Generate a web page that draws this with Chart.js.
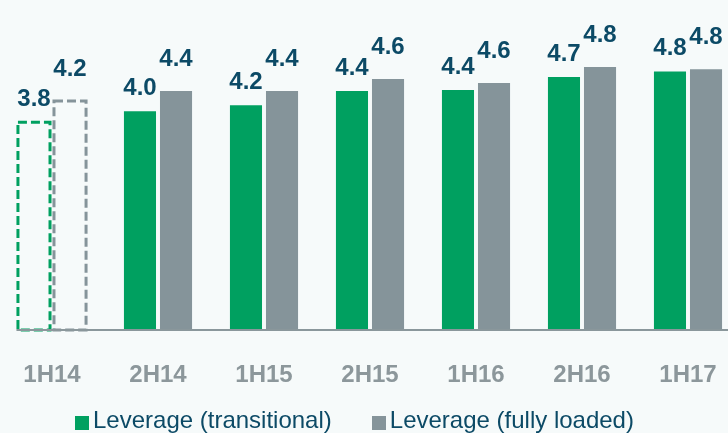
<!DOCTYPE html>
<html><head><meta charset="utf-8">
<script src="https://cdn.jsdelivr.net/npm/chart.js@4"></script>
<style>
html,body{margin:0;padding:0;background:#f6fafa;width:728px;height:433px;overflow:hidden;position:relative;font-family:"Liberation Sans",Arial,sans-serif;}
#wrap{position:absolute;left:-1px;top:0;width:742px;height:433px;}
#legend{position:absolute;left:75px;top:408px;font-size:24px;line-height:24px;color:#0c4a66;white-space:nowrap;}
.item{display:inline-block;margin-right:40px}
.box{display:inline-block;width:14px;height:14px;margin-right:4px;vertical-align:-2px}
</style></head>
<body>
<div id="wrap"><canvas id="c" width="742" height="433"></canvas></div>
<div id="legend"></div>
<script>
const categories = ['1H14','2H14','1H15','2H15','1H16','2H16','1H17'];
const transitional = [3.80, 4.00, 4.11, 4.37, 4.39, 4.63, 4.73];
const fullyLoaded = [4.19, 4.37, 4.37, 4.59, 4.52, 4.81, 4.77];
const transitionalLabels = ['3.8','4.0','4.2','4.4','4.4','4.7','4.8'];
const fullyLoadedLabels = ['4.2','4.4','4.4','4.6','4.6','4.8','4.8'];
const seriesNames = ['Leverage (transitional)','Leverage (fully loaded)'];
const outlinedCategories = ['1H14'];

const GREEN = '#00a060';
const GRAY = '#85949a';
const LABEL = '#0c4a66';
const FONT = '"Liberation Sans", Arial, sans-serif';
const labelSets = [transitionalLabels, fullyLoadedLabels];
const labelGaps = [16, 25];

const fillFor = (color) => categories.map(c => outlinedCategories.includes(c) ? 'rgba(0,0,0,0)' : color);

const overlay = {
  id: 'overlay',
  afterDatasetsDraw(chart) {
    const ctx = chart.ctx;
    const yScale = chart.scales.y;
    const base = yScale.getPixelForValue(0);
    chart.data.datasets.forEach((ds, di) => {
      const meta = chart.getDatasetMeta(di);
      meta.data.forEach((el, i) => {
        if (!outlinedCategories.includes(categories[i])) return;
        const w = el.width;
        ctx.save();
        ctx.setLineDash([9, 4]);
        ctx.lineWidth = 3;
        ctx.strokeStyle = ds.outlineColor;
        ctx.strokeRect(el.x - w / 2, el.y, w, base - el.y);
        ctx.restore();
      });
    });
    const first = chart.getDatasetMeta(0).data[0];
    ctx.save();
    ctx.strokeStyle = '#8a979b';
    ctx.lineWidth = 2;
    ctx.beginPath();
    ctx.moveTo(first.x - first.width / 2 - 1.5, base);
    ctx.lineTo(chart.chartArea.right, base);
    ctx.stroke();
    ctx.restore();
    ctx.save();
    ctx.font = 'bold 24px ' + FONT;
    ctx.fillStyle = LABEL;
    ctx.textAlign = 'center';
    ctx.textBaseline = 'alphabetic';
    chart.data.datasets.forEach((ds, di) => {
      const meta = chart.getDatasetMeta(di);
      meta.data.forEach((el, i) => {
        ctx.fillText(labelSets[di][i], el.x, el.y - labelGaps[di]);
      });
    });
    ctx.restore();
  }
};

new Chart(document.getElementById('c'), {
  type: 'bar',
  data: {
    labels: categories,
    datasets: [
      { label: seriesNames[0], data: transitional, backgroundColor: fillFor(GREEN), outlineColor: GREEN,
        categoryPercentage: 0.68, barPercentage: 0.89, borderWidth: 0 },
      { label: seriesNames[1], data: fullyLoaded, backgroundColor: fillFor(GRAY), outlineColor: GRAY,
        categoryPercentage: 0.68, barPercentage: 0.89, borderWidth: 0 }
    ]
  },
  options: {
    responsive: false,
    animation: false,
    layout: { padding: { top: 2, bottom: 44, left: 0, right: 0 } },
    scales: {
      x: {
        grid: { display: false, drawTicks: false },
        border: { display: false },
        ticks: { color: '#8c979b', font: { family: FONT, size: 24, weight: 'bold' }, padding: 31, autoSkip: false, maxRotation: 0 },
        afterFit(s) { s.paddingLeft = 0; s.paddingRight = 0; s.height = 59; }
      },
      y: { display: false, min: 0, max: 6 }
    },
    plugins: { legend: { display: false }, tooltip: { enabled: false } }
  },
  plugins: [overlay]
});

const legend = document.getElementById('legend');
[GREEN, GRAY].forEach((c, i) => {
  const item = document.createElement('span');
  item.className = 'item';
  const box = document.createElement('span');
  box.className = 'box';
  box.style.background = c;
  item.appendChild(box);
  item.appendChild(document.createTextNode(seriesNames[i]));
  legend.appendChild(item);
});
</script>
</body></html>
